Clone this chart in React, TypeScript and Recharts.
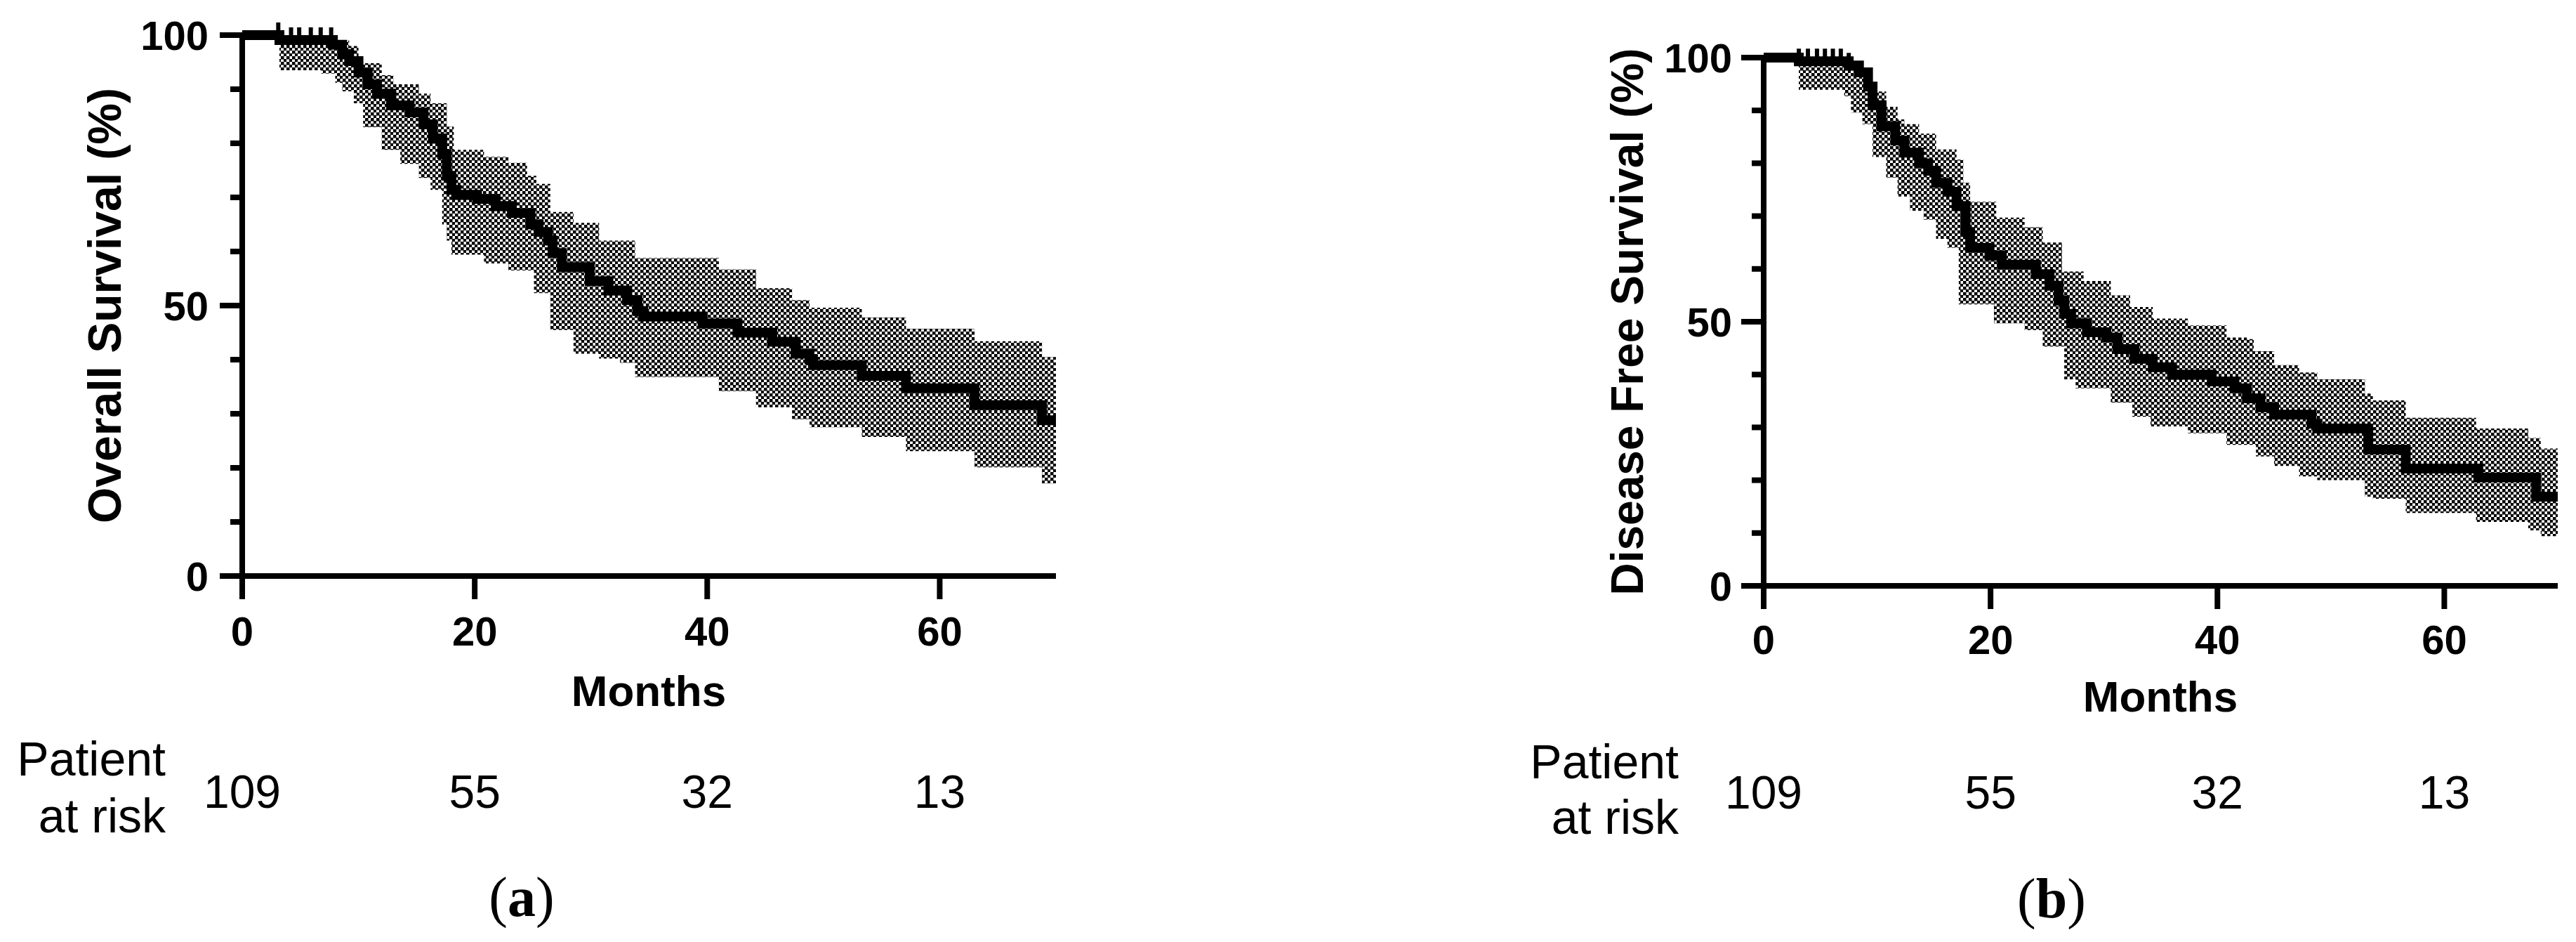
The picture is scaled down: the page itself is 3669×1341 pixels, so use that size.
import { ComposedChart, Line, Area, Scatter, XAxis, YAxis } from "recharts"

const PAGE_W = 3669
const PAGE_H = 1341

const X_TICKS = [0, 20, 40, 60]
const Y_TICKS = [0, 10, 20, 30, 40, 50, 60, 70, 80, 90, 100]
const Y_LABELED = [0, 50, 100]

// panel (a) overall survival, Kaplan-Meier steps with 95% band
const MONTHS_A = [0, 3.2, 6.8, 7.8, 8.0, 8.6, 9.2, 9.6, 10.0, 10.4, 10.8, 11.6, 12.0, 12.8, 13.0, 13.6, 14.4, 15.2, 15.6, 16.2, 16.4, 17.2, 17.6, 18.0, 18.2, 18.4, 20.2, 20.8, 21.8, 22.9, 23.2, 24.5, 24.8, 25.1, 25.3, 25.5, 26.3, 26.5, 26.7, 27.5, 28.5, 29.9, 30.7, 31.5, 32.5, 33.1, 33.8, 34.0, 34.5, 39.6, 41.0, 42.6, 44.2, 45.6, 47.3, 47.6, 48.8, 49.1, 53.3, 57.1, 63.0, 68.8, 70.0]
const SURV_A = [100, 99.1, 99.1, 98.2, 98.2, 96.5, 95.2, 95.2, 93.1, 93.1, 90.9, 89.2, 89.2, 87, 87, 87, 85.7, 85.7, 83.5, 83.5, 80.9, 78, 74, 71.4, 71.4, 70.5, 69.7, 69.7, 68.4, 68.4, 67.1, 67.1, 65, 65, 65, 63.6, 62, 62, 59.7, 57.1, 57.1, 54.5, 54.5, 52.8, 52.8, 51, 51, 49, 48, 46.7, 46.7, 45, 45, 43.3, 43.3, 41.1, 40, 39, 37, 34.7, 31.6, 28.8, 28.8]
const LOW_A = [100, 93.5, 92.9, 92.9, 91.2, 89.6, 89.6, 87.4, 87.4, 83, 83, 83, 78.8, 78.8, 78.8, 76.2, 76.2, 73.6, 73.6, 71.4, 71.4, 65, 62, 59.4, 59.4, 59.4, 59.4, 57.8, 57.8, 56.5, 56.5, 56.5, 56.5, 52.3, 52.3, 52.3, 52.3, 45.5, 45.5, 45.5, 41.1, 41.1, 40.2, 40.2, 39.4, 39.4, 36.8, 36.8, 36.8, 36.8, 34.2, 34.2, 31.2, 31.2, 29, 29, 27.5, 27.5, 25.7, 23.1, 20.1, 17.1, 17.1]
const HIGH_A = [100, 100, 100, 99, 99, 99, 98, 98, 94.8, 94.8, 94.8, 94.8, 92.6, 92.6, 90.9, 90.9, 90.9, 89.2, 89.2, 87.4, 87.4, 87.4, 83.1, 83.1, 78.8, 78.8, 78.8, 77.5, 77.5, 76.4, 76.4, 74, 74, 74, 72.5, 72.5, 72.5, 67.3, 67.3, 67.3, 65.3, 65.3, 62, 62, 62, 62, 58.8, 58.8, 58.8, 58.8, 56.7, 56.7, 53.2, 53.2, 51, 51, 49.6, 49.6, 47.8, 45.7, 43.4, 40.5, 40.5]
const CENSOR_A = [3.1, 4.2, 4.9, 5.9, 6.75, 7.65]
const AT_RISK_A = [109, 55, 32, 13]

// panel (b) disease free survival
const MONTHS_B = [0, 3.1, 7.1, 7.5, 7.7, 8.3, 8.4, 8.7, 9.2, 9.3, 9.6, 10.4, 10.8, 11.6, 11.8, 12.4, 12.9, 13.7, 14.1, 14.5, 15.2, 16.2, 17.0, 17.2, 17.6, 17.8, 18.2, 19.9, 20.3, 20.5, 21.0, 23.0, 24.0, 24.6, 25.2, 26.0, 26.3, 26.5, 27.1, 27.5, 28.2, 28.5, 30.2, 30.6, 31.2, 32.3, 32.5, 32.7, 34.1, 34.3, 36.0, 37.4, 39.5, 40.8, 41.5, 42.6, 43.2, 43.4, 43.8, 45.0, 47.2, 48.3, 48.8, 53.0, 53.3, 53.7, 56.6, 62.8, 63.0, 67.4, 68.1, 68.5, 70]
const SURV_B = [100, 99.3, 99.3, 98.5, 98.5, 98.5, 97.2, 97.2, 94.5, 94.5, 91, 87, 87, 84.3, 84.3, 82, 82, 80, 80, 78.6, 76.3, 74.6, 71.9, 71.9, 71.9, 67, 64, 62.5, 62.5, 62.5, 60.8, 60.8, 59, 59, 56.8, 54, 54, 51.5, 49.7, 49.7, 49.7, 48, 47, 47, 44.8, 44.8, 44.8, 43, 43, 41.4, 40, 40, 38.7, 38.7, 37.4, 35.5, 35.5, 35.5, 33.8, 32.4, 32.4, 30.7, 29.8, 29.8, 25.8, 25.8, 22.2, 22.2, 20.5, 20.5, 16.9, 16.9, 16.9]
const LOW_B = [100, 93.9, 92.7, 92.7, 89.6, 89.6, 89.6, 87.4, 87.4, 87.4, 81.2, 81.2, 77.3, 77.3, 73.7, 73.7, 71, 71, 69.3, 69.3, 65.7, 64, 64, 53.3, 53.3, 53.3, 53.3, 53.3, 49.7, 49.7, 49.7, 48.4, 48.4, 45.3, 45.3, 45.3, 45.3, 39.1, 39.1, 37.4, 37.4, 37.4, 37.4, 34.7, 34.7, 34.7, 32, 32, 30.2, 30.2, 30.2, 28.9, 28.9, 26.7, 26.7, 26.7, 26.7, 24.5, 24.5, 22.7, 20.7, 20.7, 20, 16.9, 16.9, 16.5, 13.8, 12.1, 12.1, 10.5, 10.5, 9.4, 9.4]
const HIGH_B = [100, 100, 100, 98.9, 98.9, 97.4, 97.4, 97.4, 97.4, 93.6, 93.6, 93.6, 90.7, 90.7, 88.3, 87.4, 87.4, 85.6, 85.6, 85.6, 82.6, 82.6, 80.7, 80.7, 76.3, 76.3, 72.7, 72.7, 72.7, 69.7, 69.7, 67.9, 67.9, 65, 65, 65, 59.5, 59.5, 59.5, 59.5, 57.7, 57.7, 57.7, 55, 55, 52.8, 52.8, 52.8, 52.8, 50.6, 50.6, 49.3, 49.3, 47, 47, 46.7, 44.4, 44.4, 44.4, 41.8, 40.4, 40.4, 39.1, 36.4, 36.4, 35.1, 31.8, 29.8, 29.8, 28, 28, 26, 26]
const CENSOR_B = [3.1, 3.9, 4.7, 5.4, 6.1, 6.8, 7.5]
const AT_RISK_B = [109, 55, 32, 13]

const SANS = "'Liberation Sans', Arial, Helvetica, sans-serif"
const SERIF = "'Liberation Serif', 'Times New Roman', serif"

type Row = { t: number; s: number; lo: number; hi: number }

function buildRows(t: number[], s: number[], lo: number[], hi: number[]): Row[] {
  return t.map((m, i) => ({ t: m, s: s[i], lo: lo[i], hi: hi[i] }))
}

function survAt(rows: Row[], m: number) {
  let v = rows[0].s
  for (const r of rows) if (r.t <= m) v = r.s
  return v
}

const rowsA = buildRows(MONTHS_A, SURV_A, LOW_A, HIGH_A)
const rowsB = buildRows(MONTHS_B, SURV_B, LOW_B, HIGH_B)

interface PanelProps {
  id: string
  rows: Row[]
  censor: number[]
  atRisk: number[]
  divLeft: number
  width: number
  plotLeft: number
  plotRight: number
  plotTop: number
  plotBottom: number
  tickBase: number
  riskBase: number
  tickGap: number
}

function KMPanel(p: PanelProps) {
  const axisW = p.plotLeft - p.divLeft
  const xAxisH = 100
  const censorPts = p.censor.map((m) => ({ t: m, s: survAt(p.rows, m) }))

  const renderXTick = (props: any) => {
    const { x, payload } = props
    const idx = X_TICKS.indexOf(payload.value)
    return (
      <g>
        <text x={x} y={p.tickBase} textAnchor="middle" fontFamily={SANS} fontWeight="bold" fontSize={58} fill="#000">
          {payload.value}
        </text>
        <text x={x} y={p.riskBase} textAnchor="middle" fontFamily={SANS} fontSize={66} fill="#000">
          {p.atRisk[idx]}
        </text>
      </g>
    )
  }

  const renderYTick = (props: any) => {
    const { y, payload } = props
    const major = Y_LABELED.includes(payload.value)
    const len = major ? 32 : 17
    return (
      <g>
        <line x1={axisW - len} x2={axisW} y1={y} y2={y} stroke="#000" strokeWidth={8} />
        {major && (
          <text x={axisW - p.tickGap} y={y + 21} textAnchor="end" fontFamily={SANS} fontWeight="bold" fontSize={58} fill="#000">
            {payload.value}
          </text>
        )}
      </g>
    )
  }

  return (
    <div style={{ position: "absolute", left: p.divLeft, top: 0 }}>
      <ComposedChart
        width={p.width}
        height={PAGE_H}
        data={p.rows}
        margin={{
          top: p.plotTop,
          right: p.divLeft + p.width - p.plotRight,
          left: 0,
          bottom: PAGE_H - p.plotBottom - xAxisH,
        }}
      >
        <defs>
          <pattern id={p.id} width={8} height={8} patternUnits="userSpaceOnUse">
            <rect width={8} height={8} fill="#fff" />
            <rect x={0} y={0} width={4.5} height={4.5} fill="#000" />
            <rect x={4} y={4} width={4.5} height={4.5} fill="#000" />
          </pattern>
        </defs>
        <XAxis
          type="number"
          dataKey="t"
          domain={[0, 70]}
          ticks={X_TICKS}
          interval={0}
          height={xAxisH}
          tickSize={33}
          axisLine={{ stroke: "#000", strokeWidth: 8 }}
          tickLine={{ stroke: "#000", strokeWidth: 8 }}
          tick={renderXTick}
          allowDataOverflow
        />
        <YAxis
          type="number"
          domain={[0, 100]}
          ticks={Y_TICKS}
          interval={0}
          width={axisW}
          axisLine={{ stroke: "#000", strokeWidth: 8 }}
          tickLine={false}
          tick={renderYTick}
        />
        <Area
          type="stepAfter"
          dataKey={(d: Row) => [d.lo, d.hi]}
          fill={`url(#${p.id})`}
          fillOpacity={1}
          stroke="none"
          isAnimationActive={false}
        />
        <Line
          type="stepAfter"
          dataKey="s"
          stroke="#000"
          strokeWidth={14}
          dot={false}
          isAnimationActive={false}
        />
        <Scatter
          data={censorPts}
          dataKey="s"
          isAnimationActive={false}
          shape={(sp: any) => (
            <line x1={sp.cx} x2={sp.cx} y1={sp.cy} y2={sp.cy - 18} stroke="#000" strokeWidth={6} />
          )}
        />
      </ComposedChart>
    </div>
  )
}

function Titles() {
  const boldSans = { fontFamily: SANS, fontWeight: "bold" as const }
  return (
    <svg width={PAGE_W} height={PAGE_H} style={{ position: "absolute", left: 0, top: 0, pointerEvents: "none" }}>
      {/* panel a */}
      <text x={172} y={435} transform="rotate(-90 172 435)" textAnchor="middle" fontSize={66} {...boldSans}>
        Overall Survival (%)
      </text>
      <text x={924} y={1005} textAnchor="middle" fontSize={62} {...boldSans}>Months</text>
      <text x={236} y={1104} textAnchor="end" fontFamily={SANS} fontSize={68}>Patient</text>
      <text x={236} y={1185} textAnchor="end" fontFamily={SANS} fontSize={68}>at risk</text>
      <text x={743} y={1304} textAnchor="middle" fontFamily={SERIF} fontSize={80}>
        (<tspan fontWeight="bold">a</tspan>)
      </text>
      {/* panel b */}
      <text x={2340} y={458} transform="rotate(-90 2340 458)" textAnchor="middle" fontSize={64} {...boldSans}>
        Disease Free Survival (%)
      </text>
      <text x={3077} y={1013} textAnchor="middle" fontSize={62} {...boldSans}>Months</text>
      <text x={2391} y={1108} textAnchor="end" fontFamily={SANS} fontSize={68}>Patient</text>
      <text x={2391} y={1187} textAnchor="end" fontFamily={SANS} fontSize={68}>at risk</text>
      <text x={2922} y={1306} textAnchor="middle" fontFamily={SERIF} fontSize={80}>
        (<tspan fontWeight="bold">b</tspan>)
      </text>
    </svg>
  )
}

export default function App() {
  return (
    <div style={{ position: "absolute", left: 0, top: 0, width: PAGE_W, height: PAGE_H, background: "#fff", overflow: "hidden" }}>
      <KMPanel
        id="checkA"
        rows={rowsA}
        censor={CENSOR_A}
        atRisk={AT_RISK_A}
        divLeft={0}
        width={1560}
        plotLeft={345}
        plotRight={1504}
        plotTop={50}
        plotBottom={820}
        tickBase={919}
        riskBase={1150}
        tickGap={48}
      />
      <KMPanel
        id="checkB"
        rows={rowsB}
        censor={CENSOR_B}
        atRisk={AT_RISK_B}
        divLeft={1900}
        width={1769}
        plotLeft={2512}
        plotRight={3643}
        plotTop={82}
        plotBottom={834}
        tickBase={931}
        riskBase={1151}
        tickGap={45}
      />
      <Titles />
    </div>
  )
}
